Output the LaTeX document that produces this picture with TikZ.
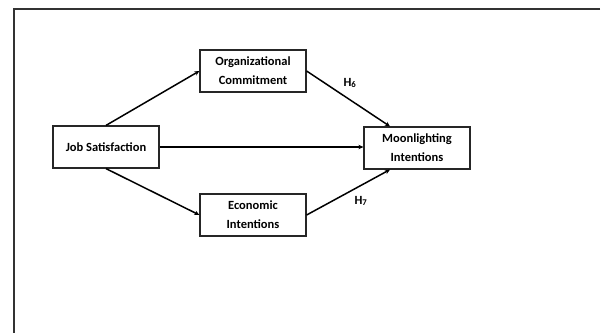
\documentclass[tikz,border=0pt]{standalone}
\usepackage{fontspec}
\setmainfont{Carlito}
\usetikzlibrary{arrows.meta,calc}
\begin{document}
\begin{tikzpicture}[x=1pt,y=-1pt,
  box/.style={draw=black!85,line width=1.2pt,minimum width=106pt,minimum height=42pt,align=center,inner sep=2pt,font=\fontsize{12.5}{19}\selectfont\bfseries},
  conn/.style={draw=black,line width=1.5pt,-{Stealth[length=5pt,width=4.5pt]}},
  lab/.style={font=\fontsize{12.5}{14}\selectfont\bfseries}]
\useasboundingbox (0,0) rectangle (605,333);
\draw[line width=1.5pt,black!80] (600,9) coordinate (tr) -- (14,9) coordinate (tl) -- (14,333) coordinate (bl);
\node[box] (js) at (106,147) {Job Satisfaction};
\node[box] (oc) at (253,71) {Organizational\\Commitment};
\node[box] (ec) at (253,215) {Economic\\Intentions};
\node[box] (mi) at (417,148) {Moonlighting\\Intentions};
\draw[conn] (js.north) -- (oc.west);
\draw[conn] (oc.east) -- ($(mi.north)+(-27,0)$);
\draw[conn] (js.east) -- (js.east -| mi.west);
\draw[conn] (js.south) -- (ec.west);
\draw[conn] (ec.east) -- ($(mi.south)+(-27,0)$);
\node[lab] (h6) at (350,83) {H\textsubscript{6}};
\node[lab] (h7) at (361,201) {H\textsubscript{7}};
\end{tikzpicture}
\end{document}
